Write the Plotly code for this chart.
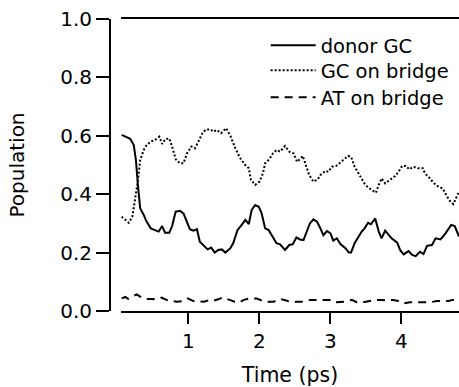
import plotly.graph_objects as go

# Donor GC population (solid)
t_donor = [0.06, 0.13, 0.18, 0.23, 0.26, 0.29, 0.32, 0.37, 0.41, 0.47,
           0.53, 0.58, 0.63, 0.67, 0.73, 0.77, 0.82, 0.88, 0.93, 0.98,
           1.02, 1.07, 1.12, 1.16, 1.23, 1.27, 1.32, 1.37, 1.42, 1.47,
           1.52, 1.59, 1.63, 1.69, 1.75, 1.80, 1.85, 1.89, 1.94, 1.99,
           2.03, 2.08, 2.13, 2.17, 2.24, 2.29, 2.36, 2.42, 2.47, 2.52,
           2.57, 2.62, 2.67, 2.71, 2.76, 2.81, 2.85, 2.90, 2.95, 3.00,
           3.04, 3.09, 3.14, 3.21, 3.26, 3.29, 3.34, 3.39, 3.44, 3.48,
           3.53, 3.57, 3.63, 3.68, 3.72, 3.77, 3.82, 3.86, 3.94, 3.98,
           4.03, 4.10, 4.15, 4.20, 4.26, 4.31, 4.36, 4.43, 4.48, 4.55,
           4.62, 4.70, 4.75, 4.81]
p_donor = [0.603, 0.595, 0.590, 0.568, 0.517, 0.426, 0.352, 0.329, 0.306, 0.283,
           0.277, 0.272, 0.291, 0.268, 0.268, 0.291, 0.340, 0.343, 0.334, 0.300,
           0.280, 0.275, 0.280, 0.237, 0.220, 0.211, 0.217, 0.200, 0.209, 0.211,
           0.200, 0.215, 0.232, 0.277, 0.295, 0.312, 0.298, 0.346, 0.363, 0.357,
           0.335, 0.283, 0.277, 0.260, 0.232, 0.228, 0.209, 0.226, 0.229, 0.252,
           0.245, 0.243, 0.277, 0.300, 0.314, 0.306, 0.287, 0.260, 0.274, 0.266,
           0.241, 0.249, 0.229, 0.215, 0.200, 0.200, 0.232, 0.254, 0.272, 0.283,
           0.302, 0.297, 0.317, 0.272, 0.249, 0.275, 0.260, 0.249, 0.234, 0.209,
           0.194, 0.205, 0.192, 0.188, 0.203, 0.195, 0.223, 0.226, 0.249, 0.245,
           0.266, 0.295, 0.291, 0.255]

# GC on bridge population (dotted)
t_gc = [0.06, 0.12, 0.16, 0.21, 0.25, 0.29, 0.32, 0.37, 0.41, 0.47,
        0.53, 0.59, 0.63, 0.67, 0.73, 0.77, 0.82, 0.88, 0.93, 0.98,
        1.04, 1.09, 1.14, 1.20, 1.25, 1.31, 1.35, 1.40, 1.46, 1.53,
        1.59, 1.66, 1.73, 1.80, 1.85, 1.88, 1.94, 2.00, 2.05, 2.08,
        2.14, 2.19, 2.24, 2.29, 2.36, 2.42, 2.48, 2.53, 2.57, 2.61,
        2.66, 2.70, 2.76, 2.82, 2.86, 2.93, 2.97, 3.02, 3.08, 3.13,
        3.18, 3.25, 3.29, 3.34, 3.39, 3.44, 3.49, 3.55, 3.61, 3.64,
        3.68, 3.72, 3.77, 3.84, 3.91, 3.96, 4.01, 4.06, 4.11, 4.17,
        4.23, 4.30, 4.33, 4.40, 4.46, 4.52, 4.58, 4.63, 4.69, 4.73,
        4.78, 4.81]
p_gc = [0.323, 0.312, 0.302, 0.323, 0.380, 0.449, 0.517, 0.551, 0.568, 0.580,
        0.586, 0.597, 0.572, 0.588, 0.591, 0.563, 0.520, 0.506, 0.506, 0.540,
        0.563, 0.557, 0.580, 0.611, 0.622, 0.622, 0.614, 0.620, 0.609, 0.626,
        0.600, 0.557, 0.523, 0.500, 0.489, 0.449, 0.432, 0.443, 0.472, 0.506,
        0.520, 0.540, 0.551, 0.546, 0.565, 0.546, 0.540, 0.511, 0.520, 0.531,
        0.494, 0.466, 0.443, 0.451, 0.466, 0.480, 0.477, 0.494, 0.497, 0.506,
        0.517, 0.531, 0.528, 0.494, 0.472, 0.449, 0.432, 0.420, 0.409, 0.405,
        0.432, 0.454, 0.437, 0.449, 0.462, 0.477, 0.497, 0.497, 0.485, 0.494,
        0.489, 0.489, 0.472, 0.454, 0.437, 0.426, 0.420, 0.397, 0.374, 0.366,
        0.397, 0.409]

# AT on bridge population (dashed)
t_at = [0.06, 0.11, 0.15, 0.22, 0.27, 0.34, 0.42, 0.48, 0.55, 0.62,
        0.69, 0.76, 0.84, 0.92, 0.99, 1.07, 1.14, 1.22, 1.30, 1.36,
        1.42, 1.48, 1.58, 1.65, 1.72, 1.78, 1.86, 1.96, 2.03, 2.10,
        2.20, 2.30, 2.40, 2.45, 2.52, 2.62, 2.72, 2.80, 2.90, 3.00,
        3.07, 3.14, 3.23, 3.30, 3.37, 3.46, 3.55, 3.64, 3.72, 3.80,
        3.88, 3.96, 4.03, 4.12, 4.20, 4.30, 4.40, 4.50, 4.58, 4.66,
        4.72, 4.81]
p_at = [0.043, 0.048, 0.042, 0.050, 0.057, 0.046, 0.041, 0.041, 0.040, 0.046,
        0.038, 0.034, 0.032, 0.034, 0.043, 0.034, 0.032, 0.032, 0.038, 0.036,
        0.040, 0.046, 0.038, 0.032, 0.030, 0.038, 0.043, 0.043, 0.036, 0.032,
        0.032, 0.041, 0.034, 0.032, 0.032, 0.032, 0.038, 0.038, 0.036, 0.038,
        0.030, 0.031, 0.032, 0.038, 0.030, 0.030, 0.034, 0.038, 0.038, 0.036,
        0.038, 0.034, 0.026, 0.030, 0.030, 0.030, 0.030, 0.034, 0.034, 0.034,
        0.038, 0.036]

x_ticks = [1, 2, 3, 4]
y_ticks = [0.0, 0.2, 0.4, 0.6, 0.8, 1.0]
y_ticklabels = ["0.0", "0.2", "0.4", "0.6", "0.8", "1.0"]

FONT = "DejaVu Sans"

fig = go.Figure()
fig.add_trace(go.Scatter(x=t_donor, y=p_donor, mode="lines", name="donor GC",
                         line=dict(color="black", width=2), legend="legend"))
fig.add_trace(go.Scatter(x=t_gc, y=p_gc, mode="lines", name="GC on bridge",
                         line=dict(color="black", width=2, dash="2px,2px"),
                         legend="legend2"))
fig.add_trace(go.Scatter(x=t_at, y=p_at, mode="lines", name="AT on bridge",
                         line=dict(color="black", width=2, dash="8px,6px"),
                         legend="legend3"))

# one legend box per entry, stacked with tight row spacing
legend_style = dict(x=0.446, xanchor="left", yanchor="top",
                    bgcolor="rgba(0,0,0,0)", font=dict(size=19.5),
                    itemwidth=45)

fig.update_layout(
    width=459, height=387,
    margin=dict(l=110, r=0, t=19, b=76),
    paper_bgcolor="white", plot_bgcolor="white",
    font=dict(family=FONT, size=20, color="black"),
    showlegend=True,
    legend=dict(y=0.976, **legend_style),
    legend2=dict(y=0.890, **legend_style),
    legend3=dict(y=0.798, **legend_style),
    xaxis=dict(
        domain=[0.0315, 1], range=[0.05, 4.81],
        tickmode="array", tickvals=x_ticks,
        ticks="outside", ticklen=11, tickwidth=2, tickcolor="black",
        showline=True, linewidth=2, linecolor="black", mirror=True,
        showgrid=False, zeroline=False,
        title=dict(text="Time (ps)", standoff=17, font=dict(size=20.5)),
    ),
    yaxis=dict(
        anchor="free", position=0, range=[0, 1.0],
        tickmode="array", tickvals=y_ticks, ticktext=y_ticklabels,
        ticks="outside", ticklen=13, tickwidth=2, tickcolor="black",
        showline=True, linewidth=2, linecolor="black",
        showgrid=False, zeroline=False,
        title=dict(text="Population", standoff=29, font=dict(size=20)),
    ),
)

fig.write_html("out.html")
